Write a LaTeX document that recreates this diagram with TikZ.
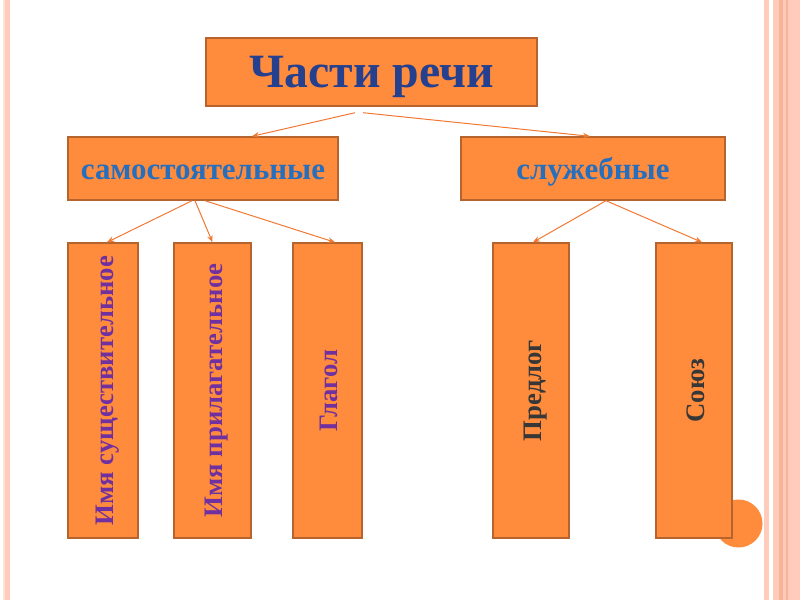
\documentclass[tikz,border=0pt]{standalone}
\usepackage{fontspec}
\setmainfont{Liberation Serif}
\definecolor{boxorange}{RGB}{255,140,60}
\definecolor{boxedge}{RGB}{182,100,45}
\definecolor{linkorange}{RGB}{242,120,50}
\definecolor{titleblue}{RGB}{36,64,142}
\definecolor{groupblue}{RGB}{38,110,190}
\definecolor{kindpurple}{RGB}{112,48,160}
\definecolor{kinddark}{RGB}{55,55,55}
\definecolor{stripepink}{RGB}{255,204,187}
\definecolor{stripelight}{RGB}{255,226,216}
\definecolor{stripedark}{RGB}{248,180,152}
\newcommand{\vtext}[1]{\rotatebox{90}{\raisebox{0pt}[0.78em][0pt]{#1}}}
\usetikzlibrary{arrows.meta,calc}

\begin{document}
\begin{tikzpicture}[x=0.025cm, y=-0.025cm,
    part/.style={rectangle, draw=boxedge, line width=1pt, fill=boxorange, inner sep=0pt},
    title/.style={part, text height=21.4pt, text depth=0pt, font=\bfseries\fontsize{34}{38}\selectfont, text=titleblue},
    group/.style={part, minimum height=1.575cm, text height=15pt, text depth=0pt, font=\bfseries\fontsize{22}{26}\selectfont, text=groupblue},
    kind/.style={part, minimum height=7.375cm, font=\bfseries\fontsize{19}{22}\selectfont, text=kindpurple},
    link/.style={-{Stealth[length=5pt,width=4pt]}, linkorange, line width=0.7pt}
]
    % Page
    \fill[white] (0,0) rectangle (800,600);
    \useasboundingbox (0,0) rectangle (800,600);

    % Border stripes
    \fill[stripelight] (3,0) rectangle (4.5,600);
    \fill[stripepink] (4.5,0) rectangle (9.5,600);
    \fill[stripepink] (764,0) rectangle (769,600);
    \fill[stripepink] (773,0) rectangle (800,600);
    \fill[stripedark] (779,0) rectangle (782.5,600);
    \fill[stripedark] (786,0) rectangle (787.5,600);

    % Corner circle
    \fill[boxorange] (738.5,523.5) circle[radius=0.6cm];

    % Title
    \node[title, minimum width=8.275cm, minimum height=1.7cm] (parts) at (371.5,72) {Части речи};

    % Groups
    \node[group, minimum width=6.75cm] (indep) at (203,168.5) {самостоятельные};
    \node[group, minimum width=6.6cm] (aux) at (593,168.5) {служебные};

    % Kinds
    \node[kind, minimum width=1.75cm] (noun) at (103,390.5) {\vtext{Имя существительное}};
    \node[kind, minimum width=1.925cm] (adj) at (212.5,390.5) {\vtext{Имя прилагательное}};
    \node[kind, minimum width=1.725cm] (verb) at (327.5,390.5) {\vtext{Глагол}};
    \node[kind, minimum width=1.9cm, text=kinddark] (prep) at (531,390.5) {\vtext{Предлог}};
    \node[kind, minimum width=1.9cm, text=kinddark] (conj) at (694,390.5) {\vtext{Союз}};

    % Arrows
    \draw[link] ($(parts.south)+(-16.5,6)$) -- ($(indep.north)+(49,0)$);
    \draw[link] ($(parts.south)+(-8.5,6)$) -- ($(aux.north)+(-3,0)$);
    \draw[link] ($(indep.south)+(-11,0)$) -- ($(noun.north)+(4,0)$);
    \draw[link] ($(indep.south)+(-8,0)$) -- (adj.north);
    \draw[link] ($(indep.south)+(2,0)$) -- ($(verb.north)+(7.5,0)$);
    \draw[link] ($(aux.south)+(13,0)$) -- ($(prep.north)+(2,0)$);
    \draw[link] ($(aux.south)+(13,0)$) -- ($(conj.north)+(8,0)$);
\end{tikzpicture}
\end{document}
